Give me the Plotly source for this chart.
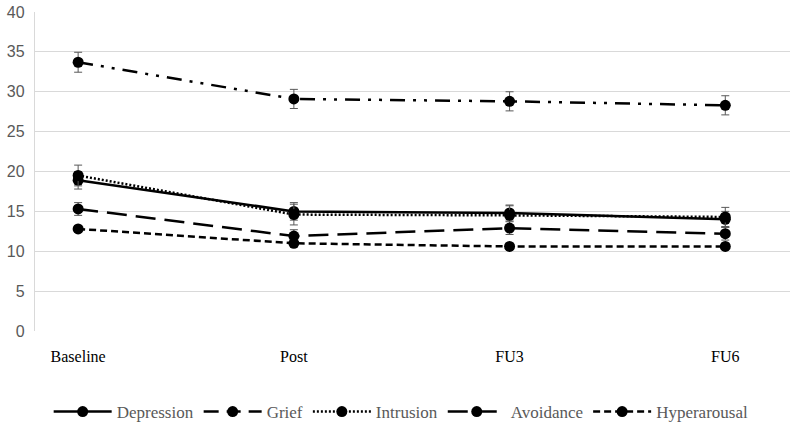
import plotly.graph_objects as go

categories = ["Baseline", "Post", "FU3", "FU6"]

depression = [18.9, 15.0, 14.8, 14.0]
depression_err = [1.1, 1.1, 1.0, 1.0]
grief = [33.7, 29.1, 28.8, 28.3]
grief_err = [1.25, 1.2, 1.2, 1.2]
intrusion = [19.5, 14.6, 14.5, 14.3]
intrusion_err = [1.3, 1.3, 1.2, 1.2]
avoidance = [15.3, 11.9, 12.9, 12.2]
avoidance_err = [0.8, 0.8, 0.8, 0.8]
hyperarousal = [12.8, 11.0, 10.6, 10.6]
hyperarousal_err = [0.4, 0.4, 0.4, 0.4]

series = [
    ("Depression", depression, depression_err, "solid"),
    ("Grief", grief, grief_err, "15px,8px,3px,8px,3px,8px"),
    ("Intrusion", intrusion, intrusion_err, "2px,2px"),
    ("Avoidance", avoidance, avoidance_err, "20px,9px"),
    ("Hyperarousal", hyperarousal, hyperarousal_err, "7px,4px"),
]

SERIF = "Liberation Serif, Times New Roman, serif"

fig = go.Figure()
for name, vals, errs, dash in series:
    fig.add_trace(go.Scatter(
        x=categories, y=vals, name=name, mode="lines+markers",
        line=dict(color="black", width=2.5, dash=dash),
        marker=dict(color="black", size=11, symbol="circle"),
        error_y=dict(type="data", array=errs, visible=True,
                     color="#595959", thickness=1, width=4),
    ))

fig.update_layout(
    width=796, height=437,
    margin=dict(l=35, r=6, t=12, b=106, autoexpand=False),
    plot_bgcolor="white", paper_bgcolor="white",
    font=dict(family=SERIF),
    showlegend=True,
    legend=dict(orientation="h", x=0.485, xanchor="center", y=-0.254, yanchor="middle",
                font=dict(family=SERIF, size=17, color="#595959"),
                itemwidth=58, tracegroupgap=0),
)
fig.update_xaxes(
    type="category", range=[-0.2, 3.3], automargin=False,
    showgrid=False, showline=False, zeroline=False,
    ticks="", ticklabelstandoff=14, ticklabeloverflow="allow",
    tickfont=dict(family=SERIF, size=16, color="black"),
)
fig.update_yaxes(
    range=[0, 40], dtick=5, automargin=False,
    showgrid=True, gridcolor="#d9d9d9", gridwidth=1.3,
    showline=True, linecolor="#d9d9d9", linewidth=1.3,
    zeroline=False, ticks="", ticklabelstandoff=6, ticklabeloverflow="allow",
    tickfont=dict(family="Liberation Sans, Arial, sans-serif", size=16, color="#595959"),
)

fig.write_html("out.html",
               config={"displayModeBar": False},
               post_script="document.body.style.margin='0';document.body.style.padding='0';")
